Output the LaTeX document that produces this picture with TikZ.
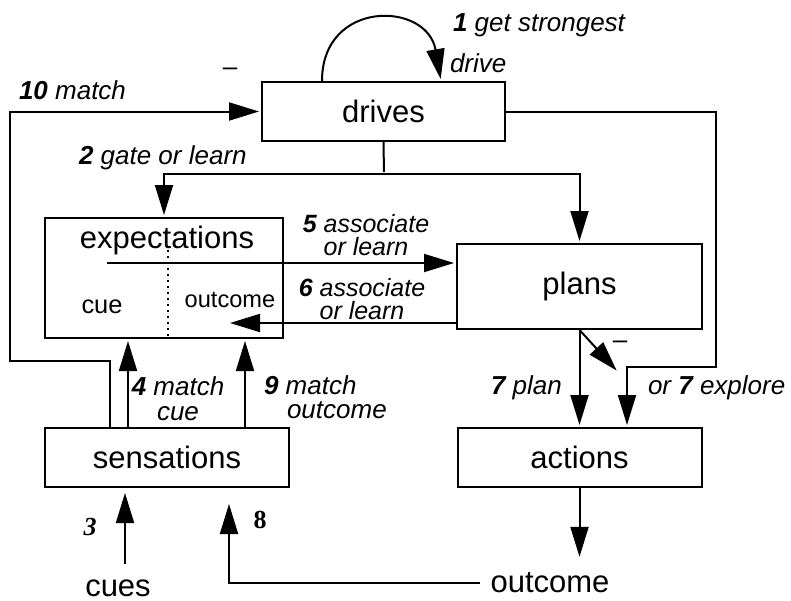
\documentclass[tikz,border=0pt]{standalone}
\usepackage{fontspec}
\setmainfont{Liberation Sans}
\newfontfamily\numfont{Liberation Serif}
\usetikzlibrary{positioning,arrows.meta}

\begin{document}
\begin{tikzpicture}[x=0.5pt,y=-0.5pt,shorten >=1pt,on grid,line width=1pt,
    >={Triangle[length=15pt,width=9pt]},
    box/.style={draw,inner sep=0pt,minimum height=29.5pt,font=\fontsize{15.5}{18}\selectfont},
    txt/.style={inner sep=0pt,font=\fontsize{15.5}{18}\selectfont},
    lbl/.style={inner sep=0pt,font=\fontsize{13}{15}\selectfont\itshape},
    lbltwo/.style={lbl,align=center,font=\fontsize{12.5}{11.5}\selectfont\itshape},
    num/.style={inner sep=0pt,font=\numfont\bfseries\fontsize{13}{15}\selectfont}]
  \useasboundingbox (0,0) rectangle (791,600);
  \node[box,minimum width=121.5pt] (drives) at (383.5,111.5) {drives};
  \node[box,minimum width=119pt,minimum height=60pt] (expect) [below left=83.25pt and 109.75pt of drives] {};
  \node[box,minimum width=122.5pt,minimum height=42.5pt] (plans) [below right=87.5pt and 98pt of drives] {plans};
  \node[box,minimum width=122pt] (actions) [below=85.5pt of plans] {actions};
  \node[box,minimum width=122pt] (sens) [below right=89.75pt and 1.5pt of expect] {sensations};

  \node[txt] (expect_t) at (167,240) {expectations};
  \node[txt,font=\fontsize{12.7}{15}\selectfont] (cue) at (102,307) {cue};
  \node[txt,font=\fontsize{11.8}{14}\selectfont] (outc_in) at (230,300) {outcome};
  \node[txt] (cues) at (118,588) {cues};
  \node[txt] (outc) at (550,583) {outcome};

  \node[lbl,anchor=west] (l_1a) at (452,25) {\textbf{1} get strongest};
  \node[lbl,anchor=west] (l_1b) at (449,63) {drive};
  \node[lbl,anchor=west] (l_10) at (18,90) {\textbf{10} match};
  \node[lbl,anchor=west] (l_2) at (78,158) {\textbf{2} gate or learn};
  \node[lbltwo] (l_5) at (366,235) {\textbf{5} associate\\or learn};
  \node[lbltwo] (l_6) at (362,299) {\textbf{6} associate\\or learn};
  \node[lbl,align=center,font=\fontsize{13}{12.5}\selectfont\itshape] (l_4) at (178,399) {\textbf{4} match\\cue};
  \node[lbl,anchor=west] (l_9a) at (263,385) {\textbf{9} match};
  \node[lbl,anchor=west] (l_9b) at (286,410) {outcome};
  \node[lbl,anchor=west] (l_7p) at (490,388) {\textbf{7} plan};
  \node[lbl,anchor=west] (l_7e) at (647,388) {or \textbf{7} explore};
  \node[lbl,font=\fontsize{13}{15}\selectfont] (m_10) at (230,72) {\textendash};
  \node[lbl,font=\fontsize{13}{15}\selectfont] (m_7) at (620,345) {\textendash};
  \node[num,font=\numfont\bfseries\itshape\fontsize{13}{15}\selectfont] (l_3) at (90,527) {3};
  \node[num] (l_8) at (260,520) {8};

  \coordinate (lp) at (322,0);
  \coordinate (lq) at (441,0);
  \coordinate (x10) at (110,0);
  \coordinate (c10) at (10,361);
  \coordinate (x4) at (128,0);
  \coordinate (x9) at (245,0);
  \coordinate (d2) at (384,174);
  \coordinate (x7e) at (627,0);
  \coordinate (c7e) at (716,367);
  \coordinate (s5) at (107,263);
  \coordinate (e6) at (228,323);
  \coordinate (dv) at (168,250);
  \coordinate (m7t) at (618,372);
  \coordinate (x3) at (125,0);
  \coordinate (x8) at (229,0);

  \draw[->] (drives.north -| lp) .. controls +(0,-82) and +(-14,-80) .. (drives.north -| lq);
  \draw[->] (sens.north -| x10) |- (c10) |- (drives);
  \draw[->] (drives.east) -| (c7e) -| (actions.north -| x7e);
  \draw (drives.south) -- (d2);
  \draw[->] (d2) -| (expect);
  \draw[->] (d2) -| (plans);
  \draw[->] (s5) -- (s5 -| plans.west);
  \draw[->] (e6 -| plans.west) -- (e6);
  \draw[dotted] (dv) -- (dv |- expect.south);
  \draw[->] (sens.north -| x4) -- (expect.south -| x4);
  \draw[->] (sens.north -| x9) -- (expect.south -| x9);
  \draw[->] (plans.south) -- (actions.north);
  \draw[->] (plans.south) -- (m7t);
  \draw[->,shorten <=7.5pt,shorten >=2.5pt] (cues.north -| x3) -- (sens.south -| x3);
  \draw[->,shorten <=5pt,shorten >=8pt] (outc.west) -| (sens.south -| x8);
  \draw[->,shorten >=7.5pt] (actions.south) -- (actions.south |- outc.north);
\end{tikzpicture}
\end{document}
